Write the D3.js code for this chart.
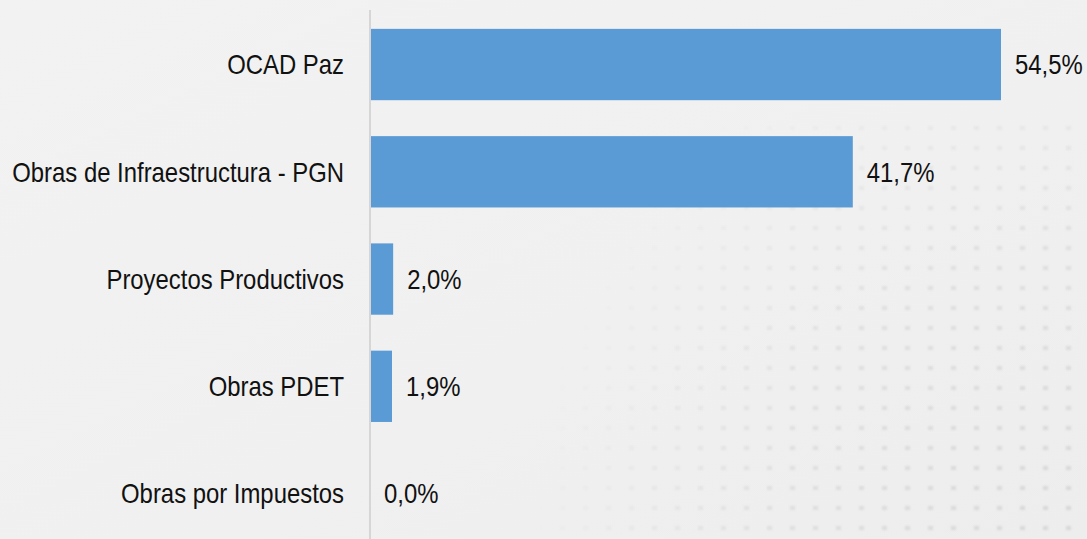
<!DOCTYPE html>
<html>
<head>
<meta charset="utf-8">
<script src="https://cdn.jsdelivr.net/npm/d3@7"></script>
<style>
  html, body { margin: 0; padding: 0; background: #f0f0f0; }
  svg { display: block; }
</style>
</head>
<body>
<svg id="chart"></svg>
<script>
// data
const categories = ['OCAD Paz', 'Obras de Infraestructura - PGN', 'Proyectos Productivos', 'Obras PDET', 'Obras por Impuestos'];
const values = [54.5, 41.7, 2.0, 1.9, 0.0];

const width = 1087, height = 539;
const axisX = 370;
const squeeze = 0.853; // narrow font look

const svg = d3.select('#chart')
    .attr('width', width)
    .attr('height', height);

// background
const defs = svg.append('defs');
const bg = defs.append('linearGradient')
    .attr('id', 'bg')
    .attr('x1', 0).attr('y1', 0).attr('x2', 1).attr('y2', 1);
bg.append('stop').attr('offset', '0%').attr('stop-color', '#f2f2f2');
bg.append('stop').attr('offset', '60%').attr('stop-color', '#f0f0f0');
bg.append('stop').attr('offset', '100%').attr('stop-color', '#ededed');

const dots = defs.append('pattern')
    .attr('id', 'dots')
    .attr('width', 23).attr('height', 20)
    .attr('patternUnits', 'userSpaceOnUse');
dots.append('rect')
    .attr('x', 8).attr('y', 6)
    .attr('width', 5).attr('height', 4)
    .attr('fill', '#c4c4c4');

defs.append('filter').attr('id', 'soft')
    .append('feGaussianBlur').attr('stdDeviation', 0.9);

const fade = defs.append('radialGradient')
    .attr('id', 'fade')
    .attr('gradientUnits', 'userSpaceOnUse')
    .attr('cx', 1087).attr('cy', 539).attr('r', 560);
fade.append('stop').attr('offset', '0%').attr('stop-color', '#fff');
fade.append('stop').attr('offset', '55%').attr('stop-color', '#aaa');
fade.append('stop').attr('offset', '100%').attr('stop-color', '#000');
defs.append('mask').attr('id', 'dotMask')
    .append('rect')
    .attr('width', width).attr('height', height)
    .attr('fill', 'url(#fade)');

svg.append('rect')
    .attr('width', width).attr('height', height)
    .attr('fill', 'url(#bg)');
svg.append('g')
    .attr('mask', 'url(#dotMask)')
    .append('rect')
    .attr('x', 540).attr('y', 120)
    .attr('width', width - 540).attr('height', height - 120)
    .attr('fill', 'url(#dots)')
    .attr('opacity', 0.55)
    .attr('filter', 'url(#soft)');

// scales
const x = d3.scaleLinear()
    .domain([0, 54.5])
    .range([axisX, 1001]);

const y = d3.scaleBand()
    .domain(categories)
    .range([10.9, 547.2])
    .paddingInner(0.335)
    .paddingOuter(0.1675);

const font = "'Liberation Sans', Arial, sans-serif";

// bars
svg.selectAll('.bar')
    .data(categories)
    .enter()
    .append('rect')
    .attr('class', 'bar')
    .attr('x', x(0))
    .attr('y', d => y(d))
    .attr('width', (d, i) => x(values[i]) - x(0))
    .attr('height', y.bandwidth())
    .attr('fill', '#5b9bd5');

// axis line
svg.append('line')
    .attr('x1', axisX).attr('x2', axisX)
    .attr('y1', 10).attr('y2', height)
    .attr('stroke', '#d6d6d6')
    .attr('stroke-width', 2);

// category labels
svg.selectAll('.cat')
    .data(categories)
    .enter()
    .append('text')
    .attr('class', 'cat')
    .attr('transform', d => `translate(${axisX - 26},${y(d) + y.bandwidth() / 2}) scale(${squeeze},1)`)
    .attr('dy', '0.35em')
    .attr('text-anchor', 'end')
    .style('font-family', font)
    .style('font-size', '28px')
    .attr('fill', '#111')
    .text(d => d);

// value labels
const fmt = v => v.toFixed(1).replace('.', ',') + '%';
svg.selectAll('.val')
    .data(categories)
    .enter()
    .append('text')
    .attr('class', 'val')
    .attr('transform', (d, i) => `translate(${x(values[i]) + 14},${y(d) + y.bandwidth() / 2}) scale(${squeeze},1)`)
    .attr('dy', '0.35em')
    .style('font-family', font)
    .style('font-size', '28px')
    .attr('fill', '#111')
    .text((d, i) => fmt(values[i]));
</script>
</body>
</html>
